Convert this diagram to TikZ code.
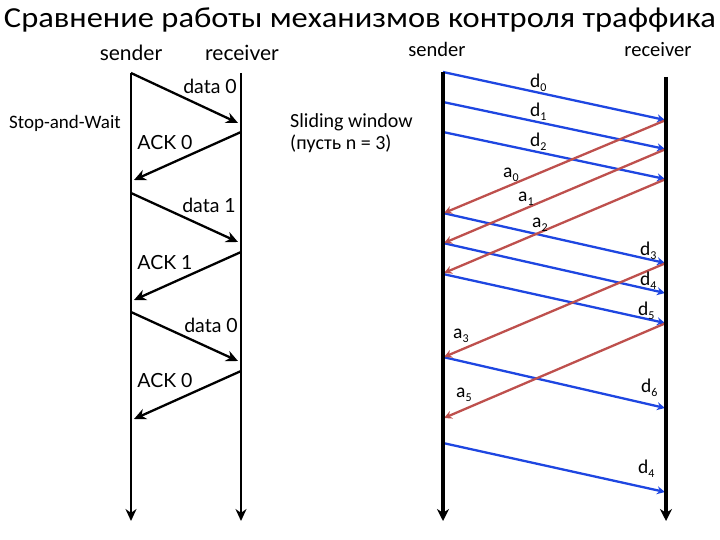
\documentclass[tikz,border=0pt]{standalone}
\usepackage{fontspec}
\setmainfont{Carlito}
\newfontfamily\gillfont{Lato}
\newfontfamily\titlefont[FakeStretch=1.12]{Carlito}
\usetikzlibrary{arrows.meta}
\definecolor{datablue}{RGB}{30,70,225}
\definecolor{ackred}{RGB}{190,80,77}
\newcommand{\idx}[1]{\raisebox{-4pt}{\fontsize{12}{13}\selectfont #1}}

\begin{document}
\begin{tikzpicture}[x=1pt, y=-1pt,
lifeline/.style={line width=2.8pt, -{Stealth[length=12pt,width=11pt]}},
lifethick/.style={line width=4.8pt, -{Stealth[length=12pt,width=12pt]}},
swmsg/.style={line width=2.3pt, -{Stealth[length=12pt,width=11pt]}},
data/.style={line width=2.3pt, datablue, -{Stealth[length=8pt,width=8pt]}},
ack/.style={line width=2.3pt, ackred, -{Stealth[length=8pt,width=8pt]}},
gill/.style={font=\gillfont\fontsize{19.5}{22}\selectfont, anchor=base, inner sep=0pt},
lbl/.style={font=\fontsize{19.5}{22}\selectfont, anchor=base west, inner sep=0pt}
]
\useasboundingbox (0,0) rectangle (720,540);

% Title
\node[anchor=base, inner sep=0pt] (title) at (360,28) {\titlefont\fontsize{29}{32}\selectfont Сравнение работы механизмов контроля траффика};

% Stop-and-Wait
\node[anchor=base, inner sep=0pt, font=\fontsize{19}{22}\selectfont] (swname) at (65,129) {Stop-and-Wait};
\node[gill, font=\gillfont\fontsize{21}{24}\selectfont] (lsend) at (131,61) {sender};
\node[gill, font=\gillfont\fontsize{21}{24}\selectfont] (lrecv) at (242,61) {receiver};

\coordinate (ls0) at (131,73);
\coordinate (ls1) at (134,180);
\coordinate (ls2) at (131,193);
\coordinate (ls3) at (134,300);
\coordinate (ls4) at (131,312);
\coordinate (ls5) at (134,419);
\coordinate (lsend end) at (131,521);
\coordinate (lr0) at (238,123);
\coordinate (lr1) at (241,132);
\coordinate (lr2) at (238,242);
\coordinate (lr3) at (241,252);
\coordinate (lr4) at (238,361);
\coordinate (lr5) at (241,371);
\coordinate (lrecv top) at (241,73);
\coordinate (lrecv end) at (241,521);

\draw[lifeline] (ls0) -- (lsend end);
\draw[lifeline] (lrecv top) -- (lrecv end);

\draw[swmsg] (ls0) -- (lr0);
\draw[swmsg] (lr1) -- (ls1);
\draw[swmsg] (ls2) -- (lr2);
\draw[swmsg] (lr3) -- (ls3);
\draw[swmsg] (ls4) -- (lr4);
\draw[swmsg] (lr5) -- (ls5);

\node[gill] (ldata0) at (210,94) {data 0};
\node[gill] (lack0) at (165,150) {ACK 0};
\node[gill] (ldata1) at (209,212) {data 1};
\node[gill] (lack1) at (165,269) {ACK 1};
\node[gill] (ldata2) at (211,332) {data 0};
\node[gill] (lack2) at (165,387) {ACK 0};

% Sliding window
\node[anchor=base west, inner sep=0pt, font=\fontsize{20}{22}\selectfont] (slname) at (290,128) {Sliding window};
\node[anchor=base west, inner sep=0pt, font=\fontsize{20}{22}\selectfont] (slnote) at (290,150) {(пусть n = 3)};
\node[anchor=base, inner sep=0pt, font=\fontsize{20.5}{22}\selectfont] (rsend) at (437,57) {sender};
\node[anchor=base, inner sep=0pt, font=\fontsize{20.5}{22}\selectfont] (rrecv) at (658,57) {receiver};

\coordinate (rsend top) at (443,72);
\coordinate (rsend end) at (443,521);
\coordinate (rrecv top) at (666,77);
\coordinate (rrecv end) at (666,521);

% data packets
\coordinate (d0s) at (443,72);  \coordinate (d0r) at (665,120);
\coordinate (d1s) at (443,102); \coordinate (d1r) at (665,149);
\coordinate (d2s) at (443,132); \coordinate (d2r) at (665,179);
\coordinate (d3s) at (443,213); \coordinate (d3r) at (665,263);
\coordinate (d4s) at (443,243); \coordinate (d4r) at (665,293);
\coordinate (d5s) at (443,274); \coordinate (d5r) at (665,323);
\coordinate (d6s) at (443,357); \coordinate (d6r) at (665,408);
\coordinate (d7s) at (443,443); \coordinate (d7r) at (665,492);

% acks
\coordinate (a0s) at (666,120); \coordinate (a0r) at (444,213);
\coordinate (a1s) at (666,149); \coordinate (a1r) at (444,243);
\coordinate (a2s) at (666,179); \coordinate (a2r) at (444,273);
\coordinate (a3s) at (666,263); \coordinate (a3r) at (444,357);
\coordinate (a5s) at (666,323); \coordinate (a5r) at (444,418);

\draw[data] (d0s) -- (d0r);
\draw[data] (d1s) -- (d1r);
\draw[data] (d2s) -- (d2r);
\draw[data] (d3s) -- (d3r);
\draw[data] (d4s) -- (d4r);
\draw[data] (d5s) -- (d5r);
\draw[data] (d6s) -- (d6r);
\draw[data] (d7s) -- (d7r);

\draw[ack] (a0s) -- (a0r);
\draw[ack] (a1s) -- (a1r);
\draw[ack] (a2s) -- (a2r);
\draw[ack] (a3s) -- (a3r);
\draw[ack] (a5s) -- (a5r);

\draw[lifethick] (rsend top) -- (rsend end);
\draw[lifethick] (rrecv top) -- (rrecv end);

\node[lbl] (ld0) at (530,88) {d\idx{0}};
\node[lbl] (ld1) at (530,117) {d\idx{1}};
\node[lbl] (ld2) at (530,147) {d\idx{2}};
\node[lbl] (la0) at (503,178) {a\idx{0}};
\node[lbl] (la1) at (518,202) {a\idx{1}};
\node[lbl] (la2) at (532,227) {a\idx{2}};
\node[lbl] (ld3) at (640,255) {d\idx{3}};
\node[lbl] (ld4) at (640,285) {d\idx{4}};
\node[lbl] (ld5) at (638,315) {d\idx{5}};
\node[lbl] (la3) at (453,338) {a\idx{3}};
\node[lbl] (la5) at (456,397) {a\idx{5}};
\node[lbl] (ld6) at (641,392) {d\idx{6}};
\node[lbl] (ld7) at (638,473) {d\idx{4}};

\end{tikzpicture}
\end{document}
